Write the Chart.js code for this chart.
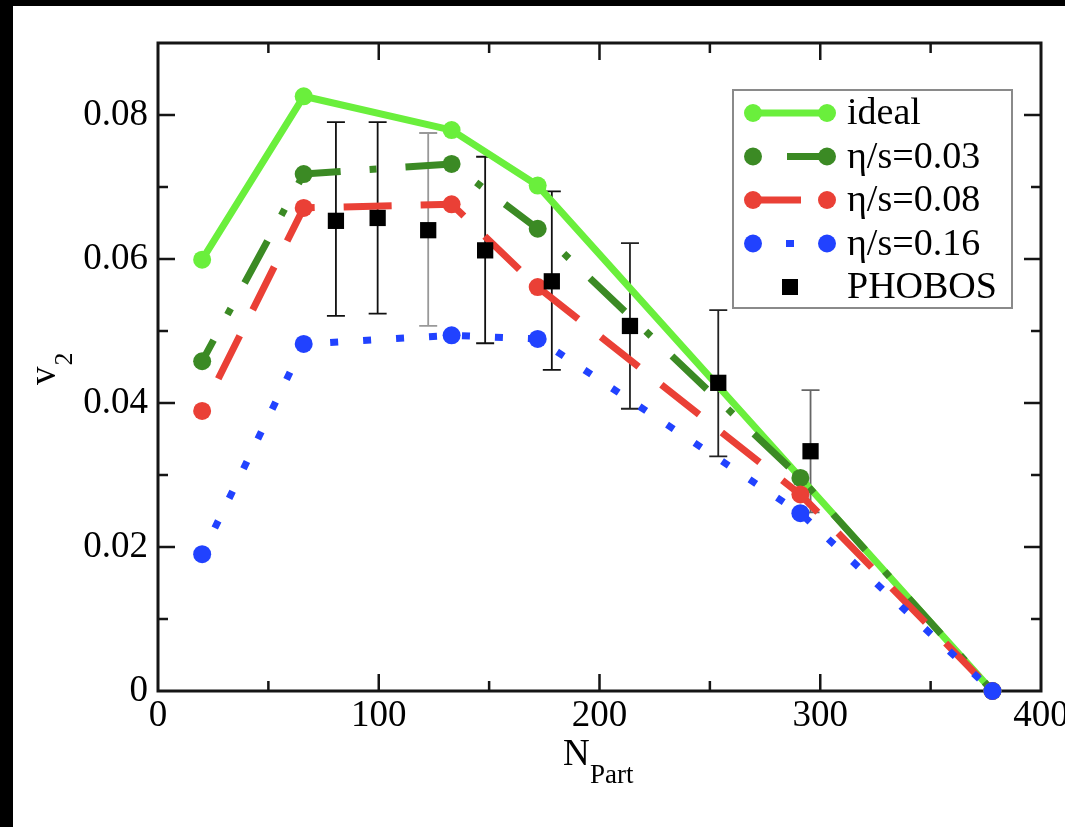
<!DOCTYPE html>
<html>
<head>
<meta charset="utf-8">
<script src="https://cdn.jsdelivr.net/npm/chart.js@4"></script>
<style>
  html, body { margin: 0; padding: 0; background: #000; }
  #wrap { position: absolute; left: 13px; top: 6px; width: 1052px; height: 821px; background: #fff; }
</style>
</head>
<body>
<div id="wrap"><canvas id="chart" width="1052" height="821"></canvas></div>
<script>
// hydro curves: v2 vs number of participants
const idealN = [20, 66, 133, 172, 378];
const idealV2 = [0.0599, 0.0826, 0.0779, 0.0702, 0];

const viscN = [20, 66, 133, 172, 291, 378];
const eta003 = [0.0458, 0.0718, 0.0732, 0.0642, 0.0296, 0];
const eta008 = [0.0389, 0.0671, 0.0676, 0.0561, 0.0273, 0];
const eta016 = [0.0190, 0.0482, 0.0494, 0.0489, 0.0247, 0];

// PHOBOS data with error bars
const phobosN = [80.6, 99.5, 122.4, 148.2, 178.4, 213.8, 253.8, 295.6];
const phobosV2 = [0.0653, 0.0657, 0.0640, 0.0612, 0.0569, 0.0507, 0.0428, 0.0333];
const phobosLow = [0.0521, 0.0524, 0.0507, 0.0483, 0.0446, 0.0392, 0.0326, 0.0248];
const phobosHigh = [0.0790, 0.0790, 0.0775, 0.0742, 0.0694, 0.0622, 0.0529, 0.0418];

const xTicks = [0, 100, 200, 300, 400];
const yTicks = [0, 0.02, 0.04, 0.06, 0.08];

const serif = "'Liberation Serif', 'Times New Roman', serif";
const barColors = ['#111', '#111', '#999', '#111', '#111', '#222', '#222', '#666'];

function pts(xs, ys) {
    return xs.map((x, i) => ({ x: x, y: ys[i] }));
}

function lineSet(label, xs, ys, color, dash, offset, order) {
    return {
        label: label,
        data: pts(xs, ys),
        showLine: true,
        borderColor: color,
        backgroundColor: color,
        borderWidth: 7,
        borderDash: dash,
        borderDashOffset: offset,
        borderJoinStyle: 'round',
        pointRadius: 9,
        pointBorderWidth: 0,
        pointBackgroundColor: color,
        tension: 0,
        clip: false,
        order: order,
    };
}

// error bars under the curves, frame with inward ticks
const framePlugin = {
    id: 'frame',
    beforeDatasetsDraw(chart) {
        const { ctx, chartArea: a, scales: { x, y } } = chart;
        ctx.save();
        ctx.lineWidth = 1.8;
        phobosN.forEach((n, i) => {
            const px = x.getPixelForValue(n);
            const top = y.getPixelForValue(phobosHigh[i]);
            const bot = y.getPixelForValue(phobosLow[i]);
            ctx.strokeStyle = barColors[i];
            ctx.beginPath();
            ctx.moveTo(px, top); ctx.lineTo(px, bot);
            ctx.moveTo(px - 9, top); ctx.lineTo(px + 9, top);
            ctx.moveTo(px - 9, bot); ctx.lineTo(px + 9, bot);
            ctx.stroke();
        });

        ctx.strokeStyle = '#151515';
        ctx.lineWidth = 2.5;
        ctx.beginPath();
        for (let k = 1; k < 8; k++) {
            const px = x.getPixelForValue(k * 50);
            const len = k % 2 === 0 ? 17 : 10;
            ctx.moveTo(px, a.bottom); ctx.lineTo(px, a.bottom - len);
            ctx.moveTo(px, a.top); ctx.lineTo(px, a.top + len);
        }
        for (let k = 1; k < 9; k++) {
            const py = y.getPixelForValue(k * 0.01);
            const len = k % 2 === 0 ? 17 : 10;
            ctx.moveTo(a.left, py); ctx.lineTo(a.left + len, py);
            ctx.moveTo(a.right, py); ctx.lineTo(a.right - len, py);
        }
        ctx.stroke();
        ctx.lineWidth = 3;
        ctx.strokeRect(a.left, a.top, a.right - a.left, a.bottom - a.top);
        ctx.restore();
    },
    afterDraw(chart) {
        const ctx = chart.ctx;
        ctx.save();
        ctx.fillStyle = '#000';
        ctx.textBaseline = 'alphabetic';
        ctx.textAlign = 'left';

        // x title N_Part
        ctx.font = '37px ' + serif;
        ctx.fillText('N', 550, 759);
        ctx.font = '27px ' + serif;
        ctx.fillText('Part', 577, 777);

        // y title v_2
        ctx.translate(42, 379);
        ctx.rotate(-Math.PI / 2);
        ctx.font = '37px ' + serif;
        ctx.fillText('v', 0, 0);
        const w = ctx.measureText('v').width;
        ctx.font = '26px ' + serif;
        ctx.fillText('2', w + 1, 17);
        ctx.restore();
    }
};

// boxed legend in the upper right
const legendPlugin = {
    id: 'boxLegend',
    afterDatasetsDraw(chart) {
        const ctx = chart.ctx;
        const box = { left: 720, top: 84, right: 999, bottom: 302 };
        const x1 = 740, x2 = 814, xm = 777, tx = 834;
        const offsets = [0, 79, 0, 0];
        ctx.save();
        ctx.fillStyle = '#fff';
        ctx.fillRect(box.left, box.top, box.right - box.left, box.bottom - box.top);
        ctx.strokeStyle = '#8a8a8a';
        ctx.lineWidth = 2;
        ctx.strokeRect(box.left, box.top, box.right - box.left, box.bottom - box.top);

        const rows = [1, 2, 3, 4, 0];
        rows.forEach((di, r) => {
            const ds = chart.data.datasets[di];
            const cy = 107 + r * 43.5;
            if (ds.showLine) {
                ctx.strokeStyle = ds.borderColor;
                ctx.lineWidth = ds.borderWidth;
                ctx.setLineDash(ds.borderDash);
                ctx.lineDashOffset = offsets[r];
                ctx.beginPath();
                ctx.moveTo(x1, cy); ctx.lineTo(x2, cy);
                ctx.stroke();
                ctx.setLineDash([]);
                ctx.fillStyle = ds.borderColor;
                [x1, x2].forEach(px => {
                    ctx.beginPath();
                    ctx.arc(px, cy, ds.pointRadius, 0, Math.PI * 2);
                    ctx.fill();
                });
            } else {
                ctx.fillStyle = '#000';
                ctx.fillRect(xm - 8, cy - 8, 16, 16);
            }
            ctx.fillStyle = '#000';
            ctx.font = '38px ' + serif;
            ctx.fillText(ds.label, tx, cy + 11);
        });
        ctx.restore();
    }
};

function initChart() {
    const ctx = document.getElementById('chart');
    new Chart(ctx, {
        type: 'scatter',
        data: {
            datasets: [
                {
                    label: 'PHOBOS',
                    data: pts(phobosN, phobosV2),
                    showLine: false,
                    pointStyle: 'rect',
                    pointRadius: 11.5,
                    pointBorderWidth: 0,
                    pointBackgroundColor: '#000',
                    backgroundColor: '#000',
                    clip: false,
                    order: 0,
                },
                lineSet('ideal', idealN, idealV2, '#6aef3c', [], 0, 4),
                lineSet('η/s=0.03', viscN, eta003, '#3b8a24', [48, 29, 7, 29], 24, 3),
                lineSet('η/s=0.08', viscN, eta008, '#ea4036', [48, 29], 41, 2),
                lineSet('η/s=0.16', viscN, eta016, '#2142ff', [8, 25], 4, 1),
            ],
        },
        options: {
            responsive: false,
            animation: false,
            events: [],
            layout: { padding: { top: 37, right: 24, bottom: 0, left: 0 } },
            plugins: {
                legend: { display: false },
                tooltip: { enabled: false },
            },
            scales: {
                x: {
                    type: 'linear',
                    min: 0,
                    max: 400,
                    afterBuildTicks: (s) => { s.ticks = xTicks.map(v => ({ value: v })); },
                    afterFit: (s) => { s.height = 136; s.paddingLeft = 0; s.paddingRight = 0; },
                    grid: { display: false, drawTicks: false },
                    border: { display: false },
                    ticks: {
                        color: '#000',
                        padding: 3,
                        maxRotation: 0,
                        autoSkip: false,
                        font: { family: serif, size: 37 },
                        callback: (v) => String(v),
                    },
                },
                y: {
                    min: 0,
                    max: 0.09,
                    afterBuildTicks: (s) => { s.ticks = yTicks.map(v => ({ value: v })); },
                    afterFit: (s) => { s.width = 145; s.paddingTop = 0; s.paddingBottom = 0; },
                    grid: { display: false, drawTicks: false },
                    border: { display: false },
                    ticks: {
                        color: '#000',
                        padding: 10,
                        autoSkip: false,
                        font: { family: serif, size: 37 },
                        callback: (v) => v === 0 ? '0' : v.toFixed(2),
                    },
                },
            },
        },
        plugins: [framePlugin, legendPlugin],
    });
}

window.addEventListener('DOMContentLoaded', initChart);
</script>
</body>
</html>
